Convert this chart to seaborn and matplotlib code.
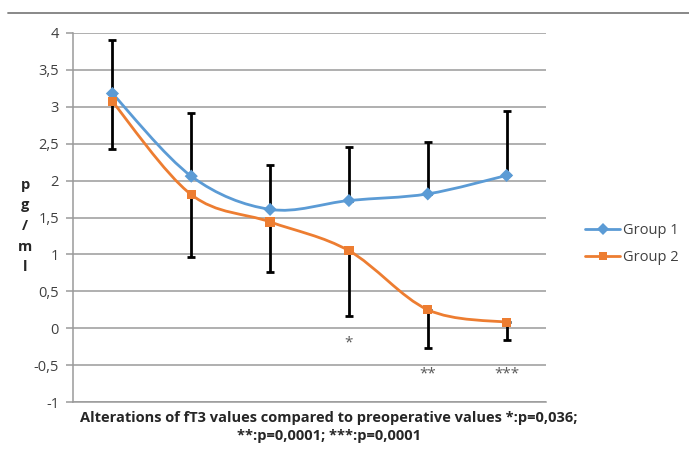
import matplotlib
matplotlib.use("Agg")
import matplotlib.pyplot as plt
from matplotlib.path import Path
from matplotlib.patches import PathPatch
from matplotlib.lines import Line2D
import seaborn as sns
import pandas as pd
import numpy as np

# values (pg/ml), six follow-up points
timepoints = [1, 2, 3, 4, 5, 6]
group1 = [3.18, 2.06, 1.61, 1.73, 1.82, 2.07]
group2 = [3.07, 1.81, 1.44, 1.05, 0.25, 0.08]
group1_sd = [0.73, 0.86, 0.60, 0.72, 0.70, 0.87]   # drawn upward only
group2_sd = [0.64, 0.85, 0.68, 0.88, 0.52, 0.24]   # drawn downward only
stars = ["", "", "", "*", "**", "***"]
yticks = [-1, -0.5, 0, 0.5, 1, 1.5, 2, 2.5, 3, 3.5, 4]

blue = "#5B9BD5"
orange = "#ED7D31"
grid_col = "#9A9A9A"
text_col = "#404040"

sns.set_style("white")
plt.rcParams["font.family"] = ["Open Sans", "DejaVu Sans"]

df = pd.DataFrame({
    "x": list(range(len(timepoints))) * 2,
    "value": group1 + group2,
    "group": ["Group 1"] * len(group1) + ["Group 2"] * len(group2),
})


def smooth_path(xs, ys):
    # Excel-style smoothed line: cubic bezier with 1/6 tension
    pts = np.column_stack([xs, ys]).astype(float)
    n = len(pts)
    verts = [pts[0]]
    codes = [Path.MOVETO]
    for i in range(n - 1):
        p0 = pts[i - 1] if i > 0 else pts[i]
        p1 = pts[i]
        p2 = pts[i + 1]
        p3 = pts[i + 2] if i + 2 < n else pts[i + 1]
        c1 = p1 + (p2 - p0) / 6
        c2 = p2 - (p3 - p1) / 6
        verts += [c1, c2, p2]
        codes += [Path.CURVE4] * 3
    return Path(verts, codes)


fig = plt.figure(figsize=(6.89, 4.70), dpi=100)
ax = fig.add_axes([73 / 689, 1 - 402 / 470, (546 - 73) / 689, (402 - 33) / 470])

x = np.arange(len(timepoints))

# error bars (group 1 plus, group 2 minus)
ax.errorbar(x, group1, yerr=[np.zeros(len(x)), group1_sd], fmt="none",
            ecolor="black", elinewidth=2, capsize=2.8, capthick=2, zorder=2)
ax.errorbar(x, group2, yerr=[group2_sd, np.zeros(len(x))], fmt="none",
            ecolor="black", elinewidth=2, capsize=2.8, capthick=2, zorder=2)

# smoothed lines
for vals, col in [(group1, blue), (group2, orange)]:
    ax.add_patch(PathPatch(smooth_path(x, vals), facecolor="none",
                           edgecolor=col, lw=2.0, zorder=3))

sns.scatterplot(data=df, x="x", y="value", hue="group", style="group",
                markers={"Group 1": "D", "Group 2": "s"},
                palette={"Group 1": blue, "Group 2": orange},
                s=45, linewidth=0, legend=False, ax=ax, zorder=4)

# significance marks
for xi, s in zip(x, stars):
    if s:
        ypos = -0.2 if len(s) == 1 else -0.62
        ax.text(xi, ypos, s, ha="center", va="center", fontsize=11,
                color="#595959")

ax.set_xlim(-0.5, len(timepoints) - 0.5)
ax.set_ylim(-1, 4)
ax.set_yticks(yticks)
ax.set_yticklabels([f"{t:g}".replace(".", ",") for t in yticks],
                   fontsize=10.5, color=text_col)
ax.set_xticks([])
ax.set_xlabel("")
ax.set_ylabel("")
ax.yaxis.grid(True, color=grid_col, lw=1.1)
ax.set_axisbelow(True)
for side in ["top", "right"]:
    ax.spines[side].set_visible(False)
ax.spines["left"].set_color(grid_col)
ax.spines["left"].set_linewidth(1.1)
ax.spines["bottom"].set_color(grid_col)
ax.spines["bottom"].set_linewidth(1.1)
ax.tick_params(axis="y", which="major", left=True, length=5, width=1.1,
               color=grid_col, pad=5)

# stacked y label
fig.text(25 / 689, 1 - 226 / 470, "p\ng\n/\nm\nl", ha="center", va="center",
         fontsize=10.5, fontweight="bold", color="#262626", linespacing=1.6)

# x caption
fig.text(329 / 689, 1 - 427 / 470,
         "Alterations of fT3 values compared to preoperative values *:p=0,036;\n"
         "**:p=0,0001; ***:p=0,0001",
         ha="center", va="center", fontsize=10.5, fontweight="bold",
         color="#262626", linespacing=1.35)

# top border line
fig.add_artist(Line2D([8 / 689, 1], [1 - 13 / 470, 1 - 13 / 470],
                      color="#7F7F7F", lw=1.3))

handles = [
    Line2D([], [], color=blue, marker="D", markersize=6, lw=2.0, markeredgewidth=0),
    Line2D([], [], color=orange, marker="s", markersize=6, lw=2.0, markeredgewidth=0),
]
fig.legend(handles, ["Group 1", "Group 2"], loc="center left",
           bbox_to_anchor=(572 / 689, 1 - 244 / 470), frameon=False,
           fontsize=10.5, handlelength=2.4, handletextpad=0.2,
           labelspacing=0.85, labelcolor=text_col)

fig.savefig("out.png", dpi=100)
